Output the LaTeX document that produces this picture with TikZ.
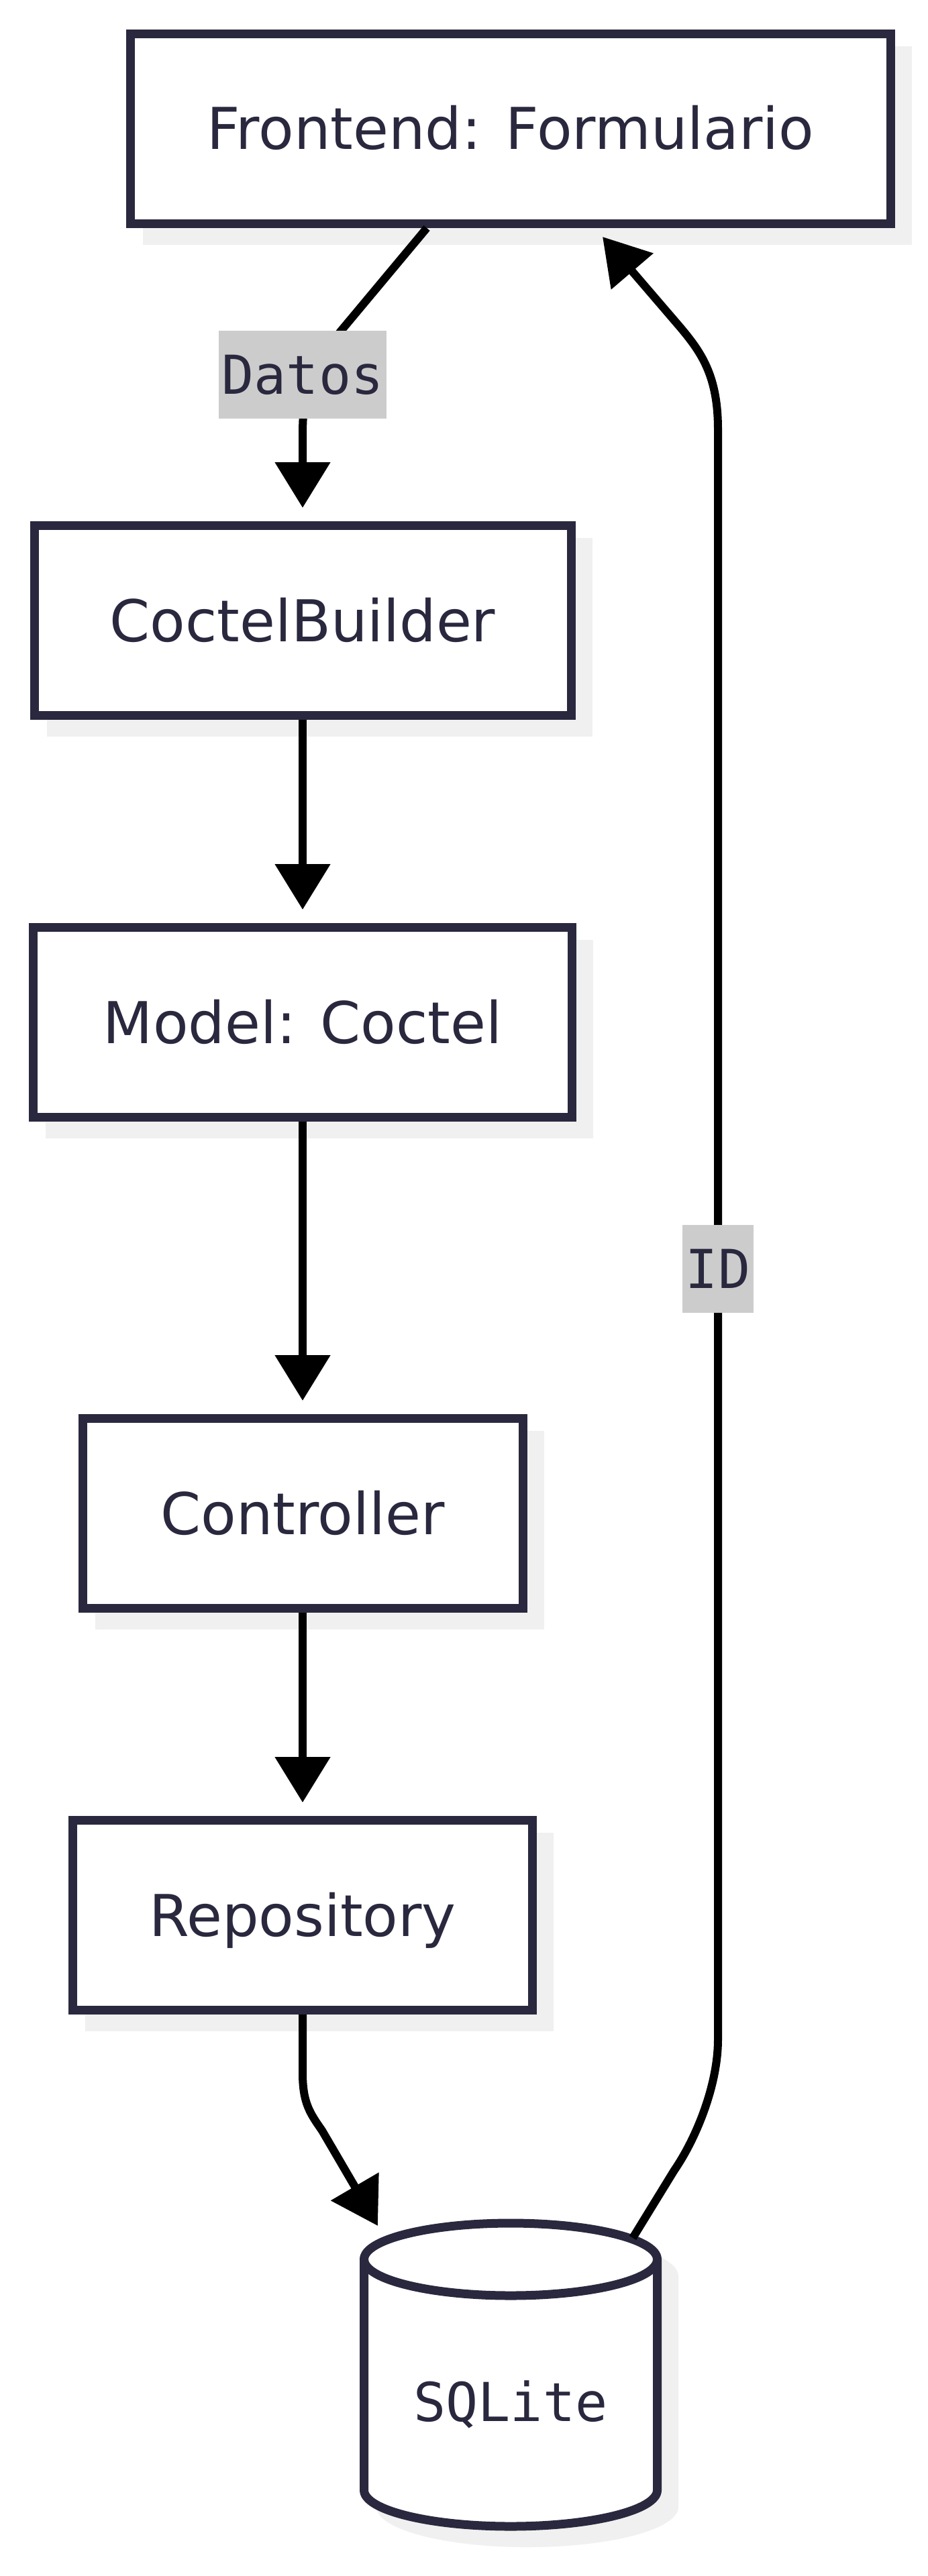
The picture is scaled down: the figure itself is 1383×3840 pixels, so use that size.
\documentclass[tikz,border=0pt]{standalone}
\usepackage{fontspec}
\setmainfont{DejaVu Sans}
\newfontfamily\monof{DejaVu Sans Mono}
\usetikzlibrary{arrows.meta,calc,backgrounds}
\definecolor{ink}{RGB}{41,40,62}
\definecolor{shadowc}{RGB}{240,240,240}
\definecolor{lblbg}{RGB}{204,204,204}
\begin{document}
\begin{tikzpicture}[x=1pt,y=-1pt,
  box/.style={draw=ink, line width=13pt, fill=white, text=ink,
    font=\fontsize{86pt}{100pt}\selectfont, minimum height=283pt,
    inner sep=0pt, text height=62pt, text depth=0pt},
  arr/.style={draw=black, line width=12pt, -{Triangle[length=68pt,width=80pt]}},
  lbl/.style={fill=lblbg, text=ink, font=\monof\fontsize{80pt}{96pt}\selectfont,
    inner xsep=5pt, inner ysep=0pt, minimum height=131pt, text height=58pt, text depth=0pt},
  cyl/.style={draw=ink, line width=13pt, fill=white},
]
\useasboundingbox (0,0) rectangle (1383,3840);

% nodes
\node[box, minimum width=1133pt] (F) at (761,192) {Frontend: Formulario};
\node[box, minimum width=800pt] (CB) at (451,925) {CoctelBuilder};
\node[box, minimum width=803pt] (M) at (451,1524) {Model: Coctel};
\node[box, minimum width=656pt] (C) at (451,2256) {Controller};
\node[box, minimum width=685pt] (R) at (451,2855) {Repository};
\node[text=ink, font=\monof\fontsize{80pt}{96pt}\selectfont, inner sep=0pt,
      text height=58pt, text depth=0pt] (S) at (761,3580) {SQLite};

\coordinate (sIn) at (563,3318);
\coordinate (sOut) at (943,3336);
\coordinate (fIn) at ([shift={(137,13)}]F.south);

% background: white, shadows, cylinder
\begin{scope}[on background layer]
  \fill[white] (0,0) rectangle (1383,3840);
  \foreach \n in {F,CB,M,C,R}
    \fill[shadowc] ([shift={(25,25)}]\n.north west) rectangle ([shift={(25,25)}]\n.south east);
  \fill[shadowc, shift={(25,25)}] (536,3368) -- (536,3712)
     arc[start angle=180, end angle=360, x radius=225pt, y radius=60pt]
     -- (986,3368)
     arc[start angle=0, end angle=180, x radius=225pt, y radius=60pt] -- cycle;
  \draw[cyl] (542.5,3368) -- (542.5,3712)
     arc[start angle=180, end angle=360, x radius=218.5pt, y radius=54pt]
     -- (979.5,3368)
     arc[start angle=0, end angle=180, x radius=218.5pt, y radius=54pt] -- cycle;
  \draw[draw=ink, line width=13pt] (542.5,3368)
     arc[start angle=180, end angle=360, x radius=218.5pt, y radius=54pt];
\end{scope}

% connectors
\draw[arr, shorten >=20pt] ([xshift=-125pt]F.south) -- (515,485)
   .. controls (458,552) and (451,590) .. (451,650) -- (CB.north);
\draw[arr, shorten >=20pt] (CB) -- (M);
\draw[arr, shorten >=20pt] (M) -- (C);
\draw[arr, shorten >=20pt] (C) -- (R);
\draw[arr] (R.south) -- (451,3090)
   .. controls (451,3135) and (462,3150) .. (480,3176) -- (sIn);
\draw[arr] (sOut) -- (1005,3235)
   .. controls (1036,3190) and (1070,3110) .. (1070,3040)
   -- (1070,640)
   .. controls (1070,560) and (1045,525) .. (1013,487) -- (fIn);

% edge labels
\node[lbl] (L1) at (451,558) {Datos};
\node[lbl] (L2) at (1070,1891) {ID};
\end{tikzpicture}
\end{document}
